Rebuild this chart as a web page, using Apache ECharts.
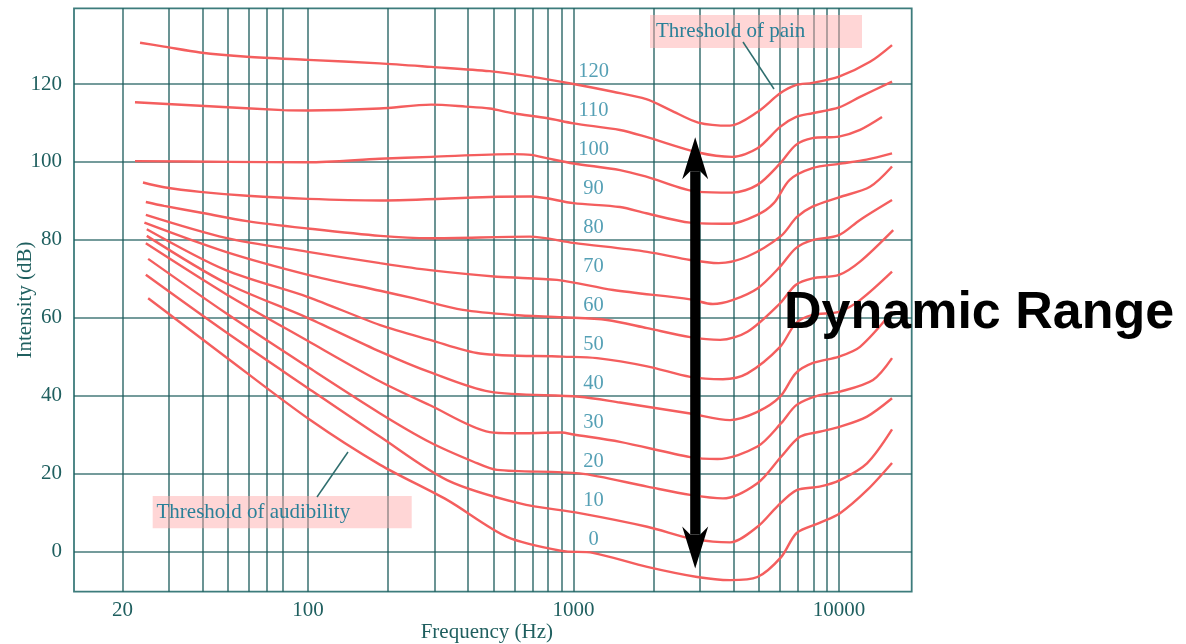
<!DOCTYPE html>
<html>
<head>
<meta charset="utf-8">
<script src="https://cdn.jsdelivr.net/npm/echarts@6/dist/echarts.min.js"></script>
<style>
  html, body { margin: 0; padding: 0; background: #ffffff; }
  #chart { width: 1186px; height: 644px; }
</style>
</head>
<body>
<div id="chart"></div>
<script>
// Equal-loudness contours, one array per loudness level: [frequency (Hz), intensity (dB)]
const phon0 = [[25.0,65.0],[49,49.9],[102,33.7],[187,22.2],[334,13.2],[562,3.7],[902,0.1],[1183,-0.4],[1895,-4.0],[2924,-6.6],[3885,-7.4],[4930,-6.6],[6053,-1.5],[6928,4.7],[8445,7.3],[10090,9.8],[12750,15.7],[15840,22.7]];
const phon10 = [[24.5,71.0],[49,56.3],[100,41.9],[187,29.4],[334,18.3],[628,12.3],[1053,9.8],[1895,6.3],[2752,3.3],[3350,2.5],[3885,2.3],[4930,6.3],[5847,11.5],[6928,15.7],[8445,16.6],[10090,18.3],[12750,22.6],[15840,31.3]];
const phon20 = [[25.0,75.1],[49,61.2],[100,47.3],[187,35.4],[288,28.0],[420,23.0],[515,20.9],[1053,20.0],[1895,16.6],[2752,14.5],[3654,13.6],[4930,17.5],[6053,24.3],[7122,29.4],[8445,30.7],[10090,32.0],[12750,34.6],[15840,39.3]];
const phon30 = [[24.5,79.1],[49,66.1],[100,54.0],[187,43.6],[288,37.5],[483,30.6],[591,30.3],[902,30.5],[1000,30.0],[1497,28.1],[2752,24.2],[3485,23.7],[4930,26.9],[6053,32.9],[6928,37.6],[8445,40.1],[10090,41.0],[13430,44.0],[15840,49.6]];
const phon40 = [[24.7,81.0],[49,68.9],[100,59.9],[187,51.3],[288,46.0],[483,41.0],[1053,39.7],[1497,38.2],[2752,35.4],[3885,33.7],[4930,35.8],[6000,39.7],[6868,45.7],[7942,48.3],[10000,50.0],[12000,52.5],[15840,61.5]];
const phon50 = [[24.7,82.7],[49,72.2],[100,65.3],[187,58.1],[288,54.3],[444,50.8],[910,50.0],[1226,49.6],[1895,47.5],[2752,44.8],[3654,44.2],[4520,45.7],[6000,52.5],[6868,58.5],[7942,60.7],[10000,61.5],[12000,64.5],[15840,71.8]];
const phon60 = [[24.2,84.4],[49,76.9],[100,71.0],[187,66.9],[249,65.0],[383,62.0],[591,60.7],[910,60.1],[1338,59.4],[1895,57.3],[2752,55.0],[3567,54.3],[4520,56.4],[6000,63.7],[6868,68.4],[7942,70.1],[10000,71.0],[12000,74.4],[16000,82.5]];
const phon70 = [[24.5,86.4],[49,80.5],[100,76.9],[187,74.0],[288,72.2],[515,70.5],[866,69.7],[1410,67.1],[2752,64.7],[3350,63.5],[3966,64.5],[4930,67.5],[6000,73.1],[6868,77.8],[7942,79.9],[10000,81.2],[12000,85.1],[15840,90.2]];
const phon80 = [[24.5,89.7],[28.7,88.7],[39.2,87.0],[58.9,84.8],[100,82.9],[187,81.0],[288,80.4],[685,80.8],[1000,79.2],[1895,76.9],[2752,74.8],[3520,74.0],[4520,75.7],[6053,81.0],[6928,85.8],[7942,88.5],[10000,90.9],[13085,93.6],[15840,98.8]];
const phon90 = [[23.9,94.7],[28.7,93.5],[39.2,92.3],[58.9,91.3],[100,90.5],[187,90.1],[483,91.0],[692,91.1],[1000,89.4],[1497,88.4],[1880,86.8],[2752,84.4],[3885,84.1],[4930,86.4],[5680,89.4],[6520,95.4],[7942,98.4],[10000,99.5],[12700,100.6],[15840,102.2]];
const phon100 = [[22.3,100.2],[50,100.0],[100,99.9],[186,100.8],[291,101.3],[591,102.0],[692,101.8],[800,100.9],[1000,99.6],[1497,97.9],[1880,96.2],[2950,92.3],[3966,92.1],[4930,94.1],[6000,99.6],[6868,104.3],[7942,106.1],[10000,106.5],[12000,108.2],[14520,111.5]];
const phon110 = [[22.3,115.3],[39.2,114.4],[80.5,113.3],[100,113.2],[186,113.7],[291,114.7],[393,114.2],[483,113.7],[591,112.5],[800,111.2],[1000,109.9],[1497,108.2],[1880,106.4],[2950,102.4],[3966,101.3],[4930,103.5],[6000,109.0],[6868,111.5],[7942,112.5],[10000,114.0],[12000,116.7],[15840,120.6]];
const phon120 = [[23.3,130.6],[28.7,129.6],[39.2,128.1],[58.9,127.0],[100,126.2],[186,125.3],[291,124.4],[483,123.3],[692,121.9],[1000,120.0],[1410,118.0],[1880,116.1],[2317,113.3],[2950,110.1],[3885,109.3],[4930,112.8],[6000,117.6],[6868,119.7],[7942,120.3],[10000,121.9],[13085,125.7],[15840,130.0]];

const phonLevels = [0, 10, 20, 30, 40, 50, 60, 70, 80, 90, 100, 110, 120];
const contours = [phon0, phon10, phon20, phon30, phon40, phon50, phon60, phon70, phon80, phon90, phon100, phon110, phon120];

// Axis ticks
const gridFreqs = [20, 30, 40, 50, 60, 70, 80, 100, 200, 300, 400, 500, 600, 700, 800, 900,
                   1000, 2000, 3000, 4000, 5000, 6000, 7000, 8000, 9000, 10000];
const freqLabels = [20, 100, 1000, 10000];
const dbTicks = [0, 20, 40, 60, 80, 100, 120];

// Where the level numbers sit along the curves
const contourLabelFreq = 1190;

// Dynamic range arrow: frequency, lower and upper intensity
const dynamicRangeFreq = [2873];
const dynamicRangeDb = [-4.4, 106.3];

const SERIF = '"Liberation Serif", "DejaVu Serif", serif';
const AXIS_TEXT = '#1f5f5f';
const GRID_LINE = 'rgba(28, 92, 92, 0.82)';
const CURVE = '#f45e5e';
const NOTE_TEXT = '#2a8098';

const chart = echarts.init(document.getElementById('chart'), null, { renderer: 'canvas' });

const curveSeries = contours.map((pts, i) => ({
  name: phonLevels[i] + ' phon',
  type: 'line',
  data: pts,
  smooth: 0.3,
  showSymbol: false,
  symbol: 'none',
  lineStyle: { color: CURVE, width: 2.4 },
  z: 3,
  silent: true
}));

const option = {
  animation: false,
  backgroundColor: '#ffffff',
  grid: {
    left: 74, right: 274.3, top: 8.3, bottom: 52.3,
    containLabel: false,
    outerBoundsMode: 'none',
    show: true, borderColor: '#3d7c7c', borderWidth: 1.8, backgroundColor: 'transparent'
  },
  xAxis: {
    type: 'log',
    logBase: 10,
    min: 13.14,
    max: 18785,
    name: 'Frequency (Hz)',
    nameLocation: 'middle',
    nameGap: 30,
    nameMoveOverlap: false,
    nameTextStyle: { fontFamily: SERIF, fontSize: 21, color: AXIS_TEXT, padding: [0, 12, 0, 0] },
    axisLine: { show: false },
    axisTick: { show: false, customValues: gridFreqs },
    axisLabel: {
      customValues: freqLabels,
      formatter: v => String(Math.round(v)),
      fontFamily: SERIF, fontSize: 21, color: AXIS_TEXT, margin: 8
    },
    splitLine: { show: true, lineStyle: { color: GRID_LINE, width: 1.6 } },
    minorSplitLine: { show: false }
  },
  yAxis: {
    type: 'value',
    min: -10.37,
    max: 139.44,
    name: 'Intensity (dB)',
    nameLocation: 'middle',
    nameGap: 38,
    nameMoveOverlap: false,
    nameRotate: 90,
    nameTextStyle: { fontFamily: SERIF, fontSize: 21, color: AXIS_TEXT },
    axisLine: { show: false },
    axisTick: { show: false, customValues: dbTicks },
    axisLabel: {
      customValues: dbTicks,
      formatter: v => String(v),
      fontFamily: SERIF, fontSize: 21, color: AXIS_TEXT, margin: 12
    },
    splitLine: { show: true, lineStyle: { color: GRID_LINE, width: 1.6 } }
  },
  series: [
    ...curveSeries,
    {
      name: 'levels',
      type: 'scatter',
      data: phonLevels.map(l => [contourLabelFreq, l]),
      symbolSize: 0,
      silent: true,
      z: 6,
      label: {
        show: true,
        position: 'inside',
        offset: [0, -12],
        formatter: p => String(p.value[1]),
        fontFamily: SERIF,
        fontSize: 20.5,
        color: '#2a88a2'
      }
    },
    {
      name: 'Dynamic Range',
      type: 'custom',
      data: [[dynamicRangeFreq[0], dynamicRangeDb[0], dynamicRangeDb[1]]],
      encode: { x: 0, y: [1, 2] },
      clip: false,
      silent: true,
      z: 8,
      renderItem: (params, api) => {
        const bot = api.coord([api.value(0), api.value(1)]);
        const top = api.coord([api.value(0), api.value(2)]);
        const x = top[0];
        const headLen = 42, headHalf = 13, shaftHalf = 5, notch = 34;
        return {
          type: 'group',
          children: [
            { type: 'rect',
              shape: { x: x - shaftHalf, y: top[1] + notch, width: shaftHalf * 2, height: bot[1] - top[1] - 2 * notch },
              style: { fill: '#000000' } },
            { type: 'polygon',
              shape: { points: [[x, top[1]], [x + headHalf, top[1] + headLen], [x + shaftHalf, top[1] + notch],
                                [x - shaftHalf, top[1] + notch], [x - headHalf, top[1] + headLen]] },
              style: { fill: '#000000' } },
            { type: 'polygon',
              shape: { points: [[x, bot[1]], [x + headHalf, bot[1] - headLen], [x + shaftHalf, bot[1] - notch],
                                [x - shaftHalf, bot[1] - notch], [x - headHalf, bot[1] - headLen]] },
              style: { fill: '#000000' } }
          ]
        };
      }
    }
  ],
  graphic: [
    // Threshold of pain note
    { type: 'rect', shape: { x: 650, y: 15, width: 212, height: 33 },
      style: { fill: 'rgba(255, 170, 170, 0.48)' }, z: 20 },
    { type: 'text', x: 656, y: 31.5,
      style: { text: 'Threshold of pain', font: '21px ' + SERIF, fill: NOTE_TEXT, verticalAlign: 'middle' }, z: 21 },
    { type: 'line', shape: { x1: 743, y1: 42, x2: 774, y2: 89 },
      style: { stroke: '#2f6e6e', lineWidth: 1.5 }, z: 21 },
    // Threshold of audibility note
    { type: 'rect', shape: { x: 152.7, y: 496, width: 259, height: 32.3 },
      style: { fill: 'rgba(255, 170, 170, 0.48)' }, z: 20 },
    { type: 'text', x: 156.5, y: 512,
      style: { text: 'Threshold of audibility', font: '21px ' + SERIF, fill: NOTE_TEXT, verticalAlign: 'middle' }, z: 21 },
    { type: 'line', shape: { x1: 348, y1: 452, x2: 317, y2: 497 },
      style: { stroke: '#2f6e6e', lineWidth: 1.5 }, z: 21 },
    // Range caption
    { type: 'text', x: 784, y: 314,
      style: { text: 'Dynamic Range', font: 'bold 52px "Liberation Sans", Arial, sans-serif', fill: '#000000', verticalAlign: 'middle' }, z: 30 }
  ]
};

chart.setOption(option);
</script>
</body>
</html>
